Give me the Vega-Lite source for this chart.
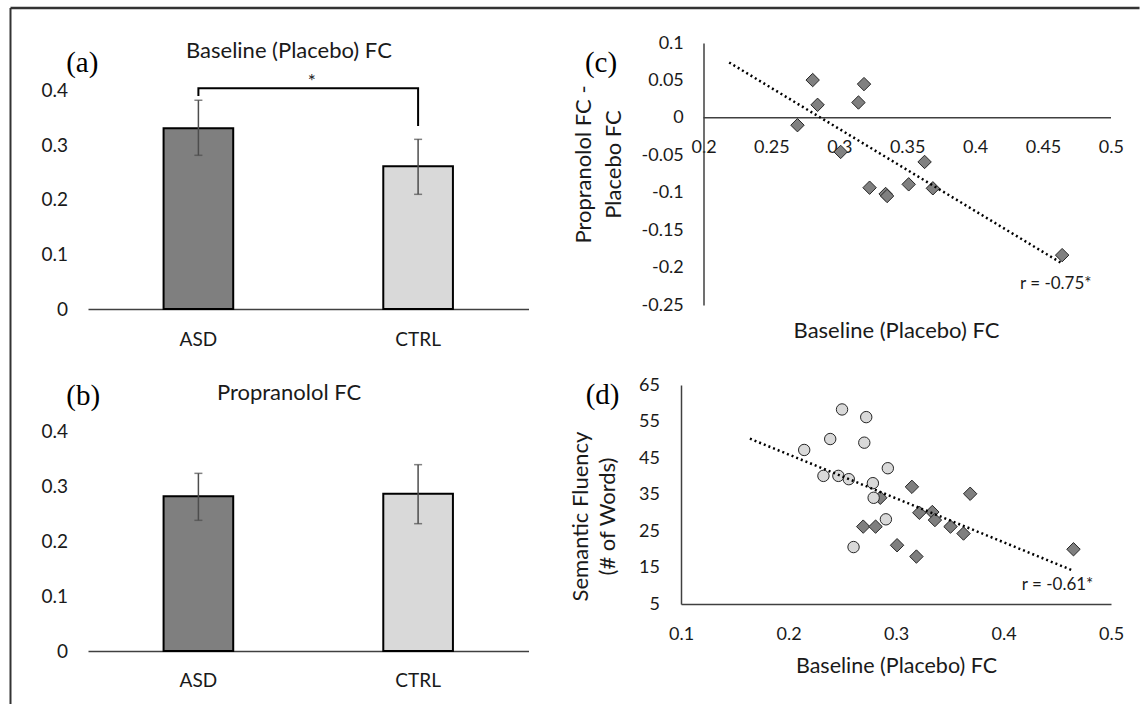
{
  "$schema": "https://vega.github.io/schema/vega-lite/v6.json",
  "background": "white",
  "padding": {"left": 9, "top": 6, "right": 0, "bottom": 0},
  "autosize": {"type": "pad"},
  "bounds": "flush",
  "align": "all",
  "columns": 2,
  "spacing": {"row": 76, "column": 152},
  "config": {
    "view": {"stroke": null},
    "font": "Lato",
    "axis": {"labelFont": "Lato", "titleFont": "Lato", "labelColor": "#1a1a1a", "titleColor": "#1a1a1a", "grid": false, "ticks": false, "tickSize": 0, "titleFontWeight": "normal", "labelOverlap": false, "labelFlush": false},
    "text": {"font": "Lato", "color": "#1a1a1a"}
  },
  "concat": [
    {
      "width": 440.5,
      "height": 266,
      "resolve": {"scale": {"x": "independent"}},
      "layer": [
        {
          "data": {"values": [
            {"group": "ASD", "fc": 0.3315, "lo": 0.282, "hi": 0.383},
            {"group": "CTRL", "fc": 0.2618, "lo": 0.2104, "hi": 0.3113}
          ]},
          "encoding": {
            "x": {"field": "group", "type": "nominal", "scale": {"paddingInner": 0.683, "paddingOuter": 0.344}, "axis": {"title": null, "domain": true, "domainColor": "#404040", "domainWidth": 1.5, "labelPadding": 21, "labelFontSize": 19, "labelAngle": 0, "labelOverlap": false}}
          },
          "layer": [
            {
              "mark": {"type": "bar", "stroke": "#000000", "strokeWidth": 2},
              "encoding": {
                "y": {"field": "fc", "type": "quantitative", "scale": {"domain": [0, 0.48807], "nice": false}, "axis": {"title": null, "domain": false, "values": [0, 0.1, 0.2, 0.3, 0.4], "tickCount": 50, "labelExpr": "'' + datum.value", "labelPadding": 20.4, "labelFontSize": 19, "labelOverlap": false}},
                "fill": {"field": "group", "type": "nominal", "scale": {"domain": ["ASD", "CTRL"], "range": ["#7f7f7f", "#d9d9d9"]}, "legend": null}
              }
            },
            {
              "mark": {"type": "rule", "color": "#4d4d4d", "strokeWidth": 1.5},
              "encoding": {
                "y": {"field": "lo", "type": "quantitative", "scale": {"domain": [0, 0.48807], "nice": false}},
                "y2": {"field": "hi"}
              }
            },
            {
              "mark": {"type": "tick", "color": "#4d4d4d", "thickness": 1.5, "size": 8},
              "encoding": {"y": {"field": "hi", "type": "quantitative", "scale": {"domain": [0, 0.48807], "nice": false}}}
            },
            {
              "mark": {"type": "tick", "color": "#4d4d4d", "thickness": 1.5, "size": 8},
              "encoding": {"y": {"field": "lo", "type": "quantitative", "scale": {"domain": [0, 0.48807], "nice": false}}}
            },
            {
              "data": {"values": [
                {"group": "ASD", "v": 0.391, "i": 0},
                {"group": "ASD", "v": 0.405, "i": 1},
                {"group": "CTRL", "v": 0.405, "i": 2},
                {"group": "CTRL", "v": 0.3358, "i": 3}
              ]},
              "mark": {"type": "line", "color": "#000000", "strokeWidth": 2},
              "encoding": {
                "y": {"field": "v", "type": "quantitative", "scale": {"domain": [0, 0.48807], "nice": false}},
                "order": {"field": "i", "type": "quantitative"}
              }
            }
          ]
        },
        {
          "data": {"values": [{}]},
          "layer": [
            {
              "mark": {"type": "text", "text": "Baseline (Placebo) FC", "fontSize": 22, "baseline": "alphabetic", "align": "center"},
              "encoding": {
                "x": {"datum": 0.4561, "type": "quantitative", "scale": {"domain": [0, 1], "nice": false, "zero": false}, "axis": null},
                "y": {"datum": 0.4606, "type": "quantitative", "scale": {"domain": [0, 0.48807], "nice": false}}
              }
            },
            {
              "mark": {"type": "text", "text": "*", "fontSize": 19, "baseline": "alphabetic", "align": "center"},
              "encoding": {
                "x": {"datum": 0.5083, "type": "quantitative", "scale": {"domain": [0, 1], "nice": false, "zero": false}, "axis": null},
                "y": {"datum": 0.4048, "type": "quantitative", "scale": {"domain": [0, 0.48807], "nice": false}}
              }
            },
            {
              "mark": {"type": "text", "text": "(a)", "font": "Liberation Serif", "fontSize": 29, "baseline": "middle", "align": "center", "color": "#000000"},
              "encoding": {
                "x": {"datum": -0.01294, "type": "quantitative", "scale": {"domain": [0, 1], "nice": false, "zero": false}, "axis": null},
                "y": {"datum": 0.4519, "type": "quantitative", "scale": {"domain": [0, 0.48807], "nice": false}}
              }
            },
            {
              "mark": {"type": "rule", "color": "#333333", "strokeWidth": 2},
              "encoding": {
                "x": {"datum": -0.17594, "type": "quantitative", "scale": {"domain": [0, 1], "nice": false, "zero": false}, "axis": null},
                "y": {"datum": 0.55229, "type": "quantitative", "scale": {"domain": [0, 0.48807], "nice": false}},
                "y2": {"datum": -0.72477}
              }
            },
            {
              "mark": {"type": "rule", "color": "#333333", "strokeWidth": 2.5},
              "encoding": {
                "x": {"datum": -0.17594, "type": "quantitative", "scale": {"domain": [0, 1], "nice": false, "zero": false}, "axis": null},
                "x2": {"datum": 2.3871},
                "y": {"datum": 0.55229, "type": "quantitative", "scale": {"domain": [0, 0.48807], "nice": false}}
              }
            }
          ]
        }
      ]
    },
    {
      "width": 430,
      "height": 262,
      "layer": [
        {
          "data": {"values": [{}]},
          "mark": {"type": "rule", "color": "#404040", "strokeWidth": 1.5},
          "encoding": {
            "x": {"datum": 0.2, "type": "quantitative", "scale": {"domain": [0.18343, 0.50007], "nice": false, "zero": false}},
            "x2": {"datum": 0.50007},
            "y": {"datum": 0, "type": "quantitative", "scale": {"domain": [-0.25, 0.1], "nice": false, "zero": false}}
          }
        },
        {
          "data": {"values": [
            {"baseline_fc": 0.2804, "diff_fc": 0.0505},
            {"baseline_fc": 0.284, "diff_fc": 0.0174},
            {"baseline_fc": 0.3182, "diff_fc": 0.0451},
            {"baseline_fc": 0.3141, "diff_fc": 0.0205},
            {"baseline_fc": 0.2692, "diff_fc": -0.0098},
            {"baseline_fc": 0.301, "diff_fc": -0.0455},
            {"baseline_fc": 0.3628, "diff_fc": -0.0589},
            {"baseline_fc": 0.3511, "diff_fc": -0.0888},
            {"baseline_fc": 0.3689, "diff_fc": -0.0941},
            {"baseline_fc": 0.3223, "diff_fc": -0.0933},
            {"baseline_fc": 0.3341, "diff_fc": -0.1017},
            {"baseline_fc": 0.3352, "diff_fc": -0.1044},
            {"baseline_fc": 0.4641, "diff_fc": -0.1834}
          ]},
          "mark": {"type": "point", "shape": "diamond", "filled": true, "fill": "#808080", "stroke": "#262626", "strokeWidth": 1, "size": 180, "opacity": 1},
          "encoding": {
            "x": {"field": "baseline_fc", "type": "quantitative", "scale": {"domain": [0.18343, 0.50007], "nice": false, "zero": false}, "axis": {"orient": "bottom", "offset": -187.1, "domain": false, "values": [0.2, 0.25, 0.3, 0.35, 0.4, 0.45, 0.5], "tickCount": 50, "labelExpr": "'' + datum.value", "labelPadding": 21, "labelFontSize": 18, "labelOverlap": false, "title": "Baseline (Placebo) FC", "titleFontSize": 22, "titleY": 213, "titleBaseline": "middle"}},
            "y": {"field": "diff_fc", "type": "quantitative", "scale": {"domain": [-0.25, 0.1], "nice": false, "zero": false}, "axis": {"offset": -22.5, "domain": true, "domainColor": "#404040", "domainWidth": 1.5, "values": [0.1, 0.05, 0, -0.05, -0.1, -0.15, -0.2, -0.25], "tickCount": 50, "labelExpr": "'' + datum.value", "labelPadding": 20.2, "labelFontSize": 18, "labelOverlap": false, "title": ["Propranolol FC -", "Placebo FC"], "titleFontSize": 22, "titleX": -113.5, "titleY": 121, "titleAlign": "center", "titleBaseline": "alphabetic", "titleLineHeight": 30}}
          }
        },
        {
          "data": {"values": [
            {"baseline_fc": 0.2189, "fit": 0.074},
            {"baseline_fc": 0.4633, "fit": -0.1937}
          ]},
          "mark": {"type": "line", "color": "#000000", "strokeWidth": 2.5, "strokeDash": [2, 3]},
          "encoding": {
            "x": {"field": "baseline_fc", "type": "quantitative", "scale": {"domain": [0.18343, 0.50007], "nice": false, "zero": false}},
            "y": {"field": "fit", "type": "quantitative", "scale": {"domain": [-0.25, 0.1], "nice": false, "zero": false}}
          }
        },
        {
          "data": {"values": [{}]},
          "layer": [
            {
              "mark": {"type": "text", "text": "r = -0.75*", "fontSize": 17, "baseline": "middle", "align": "center"},
              "encoding": {
                "x": {"datum": 0.4594, "type": "quantitative", "scale": {"domain": [0.18343, 0.50007], "nice": false, "zero": false}},
                "y": {"datum": -0.2219, "type": "quantitative", "scale": {"domain": [-0.25, 0.1], "nice": false, "zero": false}}
              }
            },
            {
              "mark": {"type": "text", "text": "(c)", "font": "Liberation Serif", "fontSize": 29, "baseline": "middle", "align": "center", "color": "#000000"},
              "encoding": {
                "x": {"datum": 0.12452, "type": "quantitative", "scale": {"domain": [0.18343, 0.50007], "nice": false, "zero": false}},
                "y": {"datum": 0.07334, "type": "quantitative", "scale": {"domain": [-0.25, 0.1], "nice": false, "zero": false}}
              }
            }
          ]
        }
      ]
    },
    {
      "width": 440.5,
      "height": 266,
      "resolve": {"scale": {"x": "independent"}},
      "layer": [
        {
          "data": {"values": [
            {"group": "ASD", "fc": 0.2813, "lo": 0.2376, "hi": 0.323},
            {"group": "CTRL", "fc": 0.286, "lo": 0.2315, "hi": 0.3388}
          ]},
          "encoding": {
            "x": {"field": "group", "type": "nominal", "scale": {"paddingInner": 0.683, "paddingOuter": 0.344}, "axis": {"title": null, "domain": true, "domainColor": "#404040", "domainWidth": 1.5, "labelPadding": 20, "labelFontSize": 19, "labelAngle": 0, "labelOverlap": false}}
          },
          "layer": [
            {
              "mark": {"type": "bar", "stroke": "#000000", "strokeWidth": 2},
              "encoding": {
                "y": {"field": "fc", "type": "quantitative", "scale": {"domain": [0, 0.48364], "nice": false}, "axis": {"title": null, "domain": false, "values": [0, 0.1, 0.2, 0.3, 0.4], "tickCount": 50, "labelExpr": "'' + datum.value", "labelPadding": 20.4, "labelFontSize": 19, "labelOverlap": false}},
                "fill": {"field": "group", "type": "nominal", "scale": {"domain": ["ASD", "CTRL"], "range": ["#7f7f7f", "#d9d9d9"]}, "legend": null}
              }
            },
            {
              "mark": {"type": "rule", "color": "#4d4d4d", "strokeWidth": 1.5},
              "encoding": {
                "y": {"field": "lo", "type": "quantitative", "scale": {"domain": [0, 0.48364], "nice": false}},
                "y2": {"field": "hi"}
              }
            },
            {
              "mark": {"type": "tick", "color": "#4d4d4d", "thickness": 1.5, "size": 8},
              "encoding": {"y": {"field": "hi", "type": "quantitative", "scale": {"domain": [0, 0.48364], "nice": false}}}
            },
            {
              "mark": {"type": "tick", "color": "#4d4d4d", "thickness": 1.5, "size": 8},
              "encoding": {"y": {"field": "lo", "type": "quantitative", "scale": {"domain": [0, 0.48364], "nice": false}}}
            }
          ]
        },
        {
          "data": {"values": [{}]},
          "layer": [
            {
              "mark": {"type": "text", "text": "Propranolol FC", "fontSize": 22, "baseline": "alphabetic", "align": "center"},
              "encoding": {
                "x": {"datum": 0.4565, "type": "quantitative", "scale": {"domain": [0, 1], "nice": false, "zero": false}, "axis": null},
                "y": {"datum": 0.4569, "type": "quantitative", "scale": {"domain": [0, 0.48364], "nice": false}}
              }
            },
            {
              "mark": {"type": "text", "text": "(b)", "font": "Liberation Serif", "fontSize": 29, "baseline": "middle", "align": "center", "color": "#000000"},
              "encoding": {
                "x": {"datum": -0.0109, "type": "quantitative", "scale": {"domain": [0, 1], "nice": false, "zero": false}, "axis": null},
                "y": {"datum": 0.4636, "type": "quantitative", "scale": {"domain": [0, 0.48364], "nice": false}}
              }
            }
          ]
        }
      ]
    },
    {
      "width": 430,
      "height": 219,
      "layer": [
        {
          "data": {"values": [
            {"group": "ASD", "baseline_fc": 0.3148, "words": 37.1},
            {"group": "ASD", "baseline_fc": 0.369, "words": 35.2},
            {"group": "ASD", "baseline_fc": 0.2854, "words": 34.1},
            {"group": "ASD", "baseline_fc": 0.3217, "words": 30.0},
            {"group": "ASD", "baseline_fc": 0.3338, "words": 30.2},
            {"group": "ASD", "baseline_fc": 0.3362, "words": 28.0},
            {"group": "ASD", "baseline_fc": 0.3507, "words": 26.2},
            {"group": "ASD", "baseline_fc": 0.3628, "words": 24.3},
            {"group": "ASD", "baseline_fc": 0.2695, "words": 26.2},
            {"group": "ASD", "baseline_fc": 0.281, "words": 26.2},
            {"group": "ASD", "baseline_fc": 0.301, "words": 21.1},
            {"group": "ASD", "baseline_fc": 0.319, "words": 18.0},
            {"group": "ASD", "baseline_fc": 0.4651, "words": 20.0},
            {"group": "CTRL", "baseline_fc": 0.2498, "words": 58.3},
            {"group": "CTRL", "baseline_fc": 0.2723, "words": 56.2},
            {"group": "CTRL", "baseline_fc": 0.2388, "words": 50.2},
            {"group": "CTRL", "baseline_fc": 0.2705, "words": 49.2},
            {"group": "CTRL", "baseline_fc": 0.2146, "words": 47.2},
            {"group": "CTRL", "baseline_fc": 0.2924, "words": 42.2},
            {"group": "CTRL", "baseline_fc": 0.2325, "words": 40.1},
            {"group": "CTRL", "baseline_fc": 0.2464, "words": 40.1},
            {"group": "CTRL", "baseline_fc": 0.2561, "words": 39.2},
            {"group": "CTRL", "baseline_fc": 0.2785, "words": 38.1},
            {"group": "CTRL", "baseline_fc": 0.2792, "words": 34.1},
            {"group": "CTRL", "baseline_fc": 0.2906, "words": 28.2},
            {"group": "CTRL", "baseline_fc": 0.2605, "words": 20.6}
          ]},
          "mark": {"type": "point", "filled": true, "stroke": "#262626", "strokeWidth": 1, "opacity": 1},
          "encoding": {
            "x": {"field": "baseline_fc", "type": "quantitative", "scale": {"domain": [0.1, 0.5], "nice": false, "zero": false}, "axis": {"domain": true, "domainColor": "#404040", "domainWidth": 1.5, "values": [0.1, 0.2, 0.3, 0.4, 0.5], "tickCount": 50, "labelExpr": "'' + datum.value", "labelPadding": 21, "labelFontSize": 18, "labelOverlap": false, "title": "Baseline (Placebo) FC", "titleFontSize": 21.5, "titleY": 62, "titleBaseline": "middle"}},
            "y": {"field": "words", "type": "quantitative", "scale": {"domain": [5, 65], "nice": false, "zero": false}, "axis": {"domain": true, "domainColor": "#404040", "domainWidth": 1.5, "values": [5, 15, 25, 35, 45, 55, 65], "tickCount": 50, "labelPadding": 21.5, "labelFontSize": 18, "labelOverlap": false, "title": ["Semantic Fluency", "(# of Words)"], "titleFontSize": 22, "titleX": -94, "titleY": 131, "titleAlign": "center", "titleBaseline": "alphabetic", "titleLineHeight": 27}},
            "shape": {"field": "group", "type": "nominal", "scale": {"domain": ["ASD", "CTRL"], "range": ["diamond", "circle"]}, "legend": null},
            "fill": {"field": "group", "type": "nominal", "scale": {"domain": ["ASD", "CTRL"], "range": ["#808080", "#d9d9d9"]}, "legend": null},
            "size": {"field": "group", "type": "nominal", "scale": {"domain": ["ASD", "CTRL"], "range": [180, 130]}, "legend": null}
          }
        },
        {
          "data": {"values": [
            {"baseline_fc": 0.1641, "fit": 50.29},
            {"baseline_fc": 0.464, "fit": 14.23}
          ]},
          "mark": {"type": "line", "color": "#000000", "strokeWidth": 2.5, "strokeDash": [2, 3]},
          "encoding": {
            "x": {"field": "baseline_fc", "type": "quantitative", "scale": {"domain": [0.1, 0.5], "nice": false, "zero": false}},
            "y": {"field": "fit", "type": "quantitative", "scale": {"domain": [5, 65], "nice": false, "zero": false}}
          }
        },
        {
          "data": {"values": [{}]},
          "layer": [
            {
              "mark": {"type": "text", "text": "r = -0.61*", "fontSize": 17, "baseline": "middle", "align": "center"},
              "encoding": {
                "x": {"datum": 0.4503, "type": "quantitative", "scale": {"domain": [0.1, 0.5], "nice": false, "zero": false}},
                "y": {"datum": 10.21, "type": "quantitative", "scale": {"domain": [5, 65], "nice": false, "zero": false}}
              }
            },
            {
              "mark": {"type": "text", "text": "(d)", "font": "Liberation Serif", "fontSize": 29, "baseline": "middle", "align": "center", "color": "#000000"},
              "encoding": {
                "x": {"datum": 0.02704, "type": "quantitative", "scale": {"domain": [0.1, 0.5], "nice": false, "zero": false}},
                "y": {"datum": 62.26, "type": "quantitative", "scale": {"domain": [5, 65], "nice": false, "zero": false}}
              }
            }
          ]
        }
      ]
    }
  ]
}
